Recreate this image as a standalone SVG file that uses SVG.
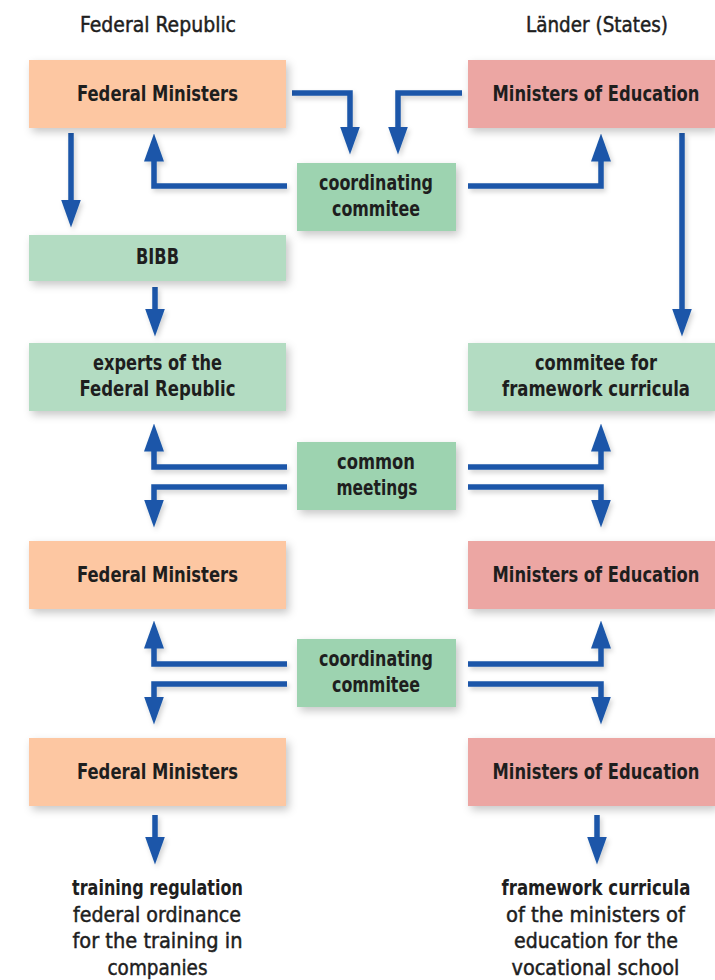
<svg xmlns="http://www.w3.org/2000/svg" width="715" height="980" viewBox="0 0 715 980">
<defs>
<style>
.t{font-family:'DejaVu Sans Condensed','DejaVu Sans',sans-serif;font-size:21.5px;fill:#1e1e1e;text-anchor:middle}
.b{font-weight:bold}
.hd{font-weight:normal;stroke:#1e1e1e;stroke-width:0.45}
.fm{fill:#fdc7a2}
.me{fill:#eca6a3}
.co{fill:#9dd3b0}
.lg{fill:#b3dcc2}
.ar{fill:none;stroke:#1a57a9;stroke-width:5.5;marker-end:url(#ah)}
</style>
<filter id="sh" x="-10%" y="-20%" width="130%" height="160%">
<feDropShadow dx="3" dy="4" stdDeviation="4" flood-color="#000" flood-opacity="0.22"/>
</filter>
<filter id="sha" x="-30%" y="-30%" width="160%" height="160%">
<feDropShadow dx="2" dy="3" stdDeviation="2.5" flood-color="#000" flood-opacity="0.18"/>
</filter>
<marker id="ah" markerUnits="userSpaceOnUse" viewBox="0 0 28 20" refX="0.5" refY="10" markerWidth="28" markerHeight="20" orient="auto">
<path d="M0,0 L28,10 L0,20 Z" fill="#1a57a9"/>
</marker>
</defs>
<rect width="715" height="980" fill="#ffffff"/>

<g id="headers">
<g transform="scale(0.86,1)">
<text class="t hd" x="183.72" y="32" textLength="181.4" lengthAdjust="spacingAndGlyphs">Federal Republic</text>
<text class="t hd" x="694.19" y="32" textLength="165.12" lengthAdjust="spacingAndGlyphs">Länder (States)</text>
</g>
</g>

<g id="connectors" filter="url(#sha)">
<path class="ar" d="M292,93 H350 V127"/>
<path class="ar" d="M462,93 H398 V127"/>
<path class="ar" d="M287,186 H154 V161"/>
<path class="ar" d="M468,186 H601 V161"/>
<path class="ar" d="M71,133 V200"/>
<path class="ar" d="M682,133 V309"/>
<path class="ar" d="M155,287 V309"/>
<path class="ar" d="M287,467 H154 V451"/>
<path class="ar" d="M287,487 H154 V500"/>
<path class="ar" d="M468,467 H601 V451"/>
<path class="ar" d="M468,487 H601 V500"/>
<path class="ar" d="M287,664 H154 V648"/>
<path class="ar" d="M287,684 H154 V697"/>
<path class="ar" d="M468,664 H601 V648"/>
<path class="ar" d="M468,684 H601 V697"/>
<path class="ar" d="M155,815 V837"/>
<path class="ar" d="M597,815 V837"/>
</g>

<g id="fm1">
<rect class="fm" x="29" y="60" width="257" height="68" filter="url(#sh)"/>
<g transform="scale(0.86,1)"><text class="t b" x="183.14" y="101" textLength="187.21" lengthAdjust="spacingAndGlyphs">Federal Ministers</text></g>
</g>
<g id="me1">
<rect class="me" x="468" y="60" width="247" height="68" filter="url(#sh)"/>
<g transform="scale(0.86,1)"><text class="t b" x="693.02" y="101" textLength="240.7" lengthAdjust="spacingAndGlyphs">Ministers of Education</text></g>
</g>
<g id="coord1">
<rect class="co" x="297" y="163" width="159" height="68" filter="url(#sh)"/>
<g transform="scale(0.86,1)">
<text class="t b" x="437.21" y="190" textLength="132.56" lengthAdjust="spacingAndGlyphs">coordinating</text>
<text class="t b" x="437.21" y="216" textLength="102.33" lengthAdjust="spacingAndGlyphs">commitee</text>
</g>
</g>
<g id="bibb">
<rect class="lg" x="29" y="235" width="257" height="46" filter="url(#sh)"/>
<g transform="scale(0.86,1)"><text class="t b" x="183.14" y="264" textLength="50" lengthAdjust="spacingAndGlyphs">BIBB</text></g>
</g>
<g id="experts">
<rect class="lg" x="29" y="343" width="257" height="68" filter="url(#sh)"/>
<g transform="scale(0.86,1)">
<text class="t b" x="183.14" y="370" textLength="150" lengthAdjust="spacingAndGlyphs">experts of the</text>
<text class="t b" x="183.14" y="396.5" textLength="181.4" lengthAdjust="spacingAndGlyphs">Federal Republic</text>
</g>
</g>
<g id="committee">
<rect class="lg" x="468" y="343" width="247" height="68" filter="url(#sh)"/>
<g transform="scale(0.86,1)">
<text class="t b" x="693.02" y="370" textLength="141.86" lengthAdjust="spacingAndGlyphs">commitee for</text>
<text class="t b" x="693.02" y="396.5" textLength="218.6" lengthAdjust="spacingAndGlyphs">framework curricula</text>
</g>
</g>
<g id="common">
<rect class="co" x="297" y="442" width="159" height="68" filter="url(#sh)"/>
<g transform="scale(0.86,1)">
<text class="t b" x="437.21" y="469" textLength="90.7" lengthAdjust="spacingAndGlyphs">common</text>
<text class="t b" x="438.37" y="495" textLength="94.19" lengthAdjust="spacingAndGlyphs">meetings</text>
</g>
</g>
<g id="fm2">
<rect class="fm" x="29" y="541" width="257" height="68" filter="url(#sh)"/>
<g transform="scale(0.86,1)"><text class="t b" x="183.14" y="582" textLength="187.21" lengthAdjust="spacingAndGlyphs">Federal Ministers</text></g>
</g>
<g id="me2">
<rect class="me" x="468" y="541" width="247" height="68" filter="url(#sh)"/>
<g transform="scale(0.86,1)"><text class="t b" x="693.02" y="582" textLength="240.7" lengthAdjust="spacingAndGlyphs">Ministers of Education</text></g>
</g>
<g id="coord2">
<rect class="co" x="297" y="639" width="159" height="68" filter="url(#sh)"/>
<g transform="scale(0.86,1)">
<text class="t b" x="437.21" y="666" textLength="132.56" lengthAdjust="spacingAndGlyphs">coordinating</text>
<text class="t b" x="437.21" y="692" textLength="102.33" lengthAdjust="spacingAndGlyphs">commitee</text>
</g>
</g>
<g id="fm3">
<rect class="fm" x="29" y="738" width="257" height="68" filter="url(#sh)"/>
<g transform="scale(0.86,1)"><text class="t b" x="183.14" y="779" textLength="187.21" lengthAdjust="spacingAndGlyphs">Federal Ministers</text></g>
</g>
<g id="me3">
<rect class="me" x="468" y="738" width="247" height="68" filter="url(#sh)"/>
<g transform="scale(0.86,1)"><text class="t b" x="693.02" y="779" textLength="240.7" lengthAdjust="spacingAndGlyphs">Ministers of Education</text></g>
</g>

<g id="out-left">
<g transform="scale(0.86,1)">
<text class="t b" x="183.14" y="895" textLength="198.84" lengthAdjust="spacingAndGlyphs">training regulation</text>
<text class="t hd" x="182.56" y="922" textLength="195.35" lengthAdjust="spacingAndGlyphs">federal ordinance</text>
<text class="t hd" x="183.14" y="948.5" textLength="197.67" lengthAdjust="spacingAndGlyphs">for the training in</text>
<text class="t hd" x="183.14" y="975" textLength="116.28" lengthAdjust="spacingAndGlyphs">companies</text>
</g>
</g>
<g id="out-right">
<g transform="scale(0.86,1)">
<text class="t b" x="693.02" y="895" textLength="219.77" lengthAdjust="spacingAndGlyphs">framework curricula</text>
<text class="t hd" x="692.44" y="922" textLength="208.14" lengthAdjust="spacingAndGlyphs">of the ministers of</text>
<text class="t hd" x="693.02" y="948.5" textLength="190.7" lengthAdjust="spacingAndGlyphs">education for the</text>
<text class="t hd" x="692.44" y="975" textLength="195.35" lengthAdjust="spacingAndGlyphs">vocational school</text>
</g>
</g>
</svg>
